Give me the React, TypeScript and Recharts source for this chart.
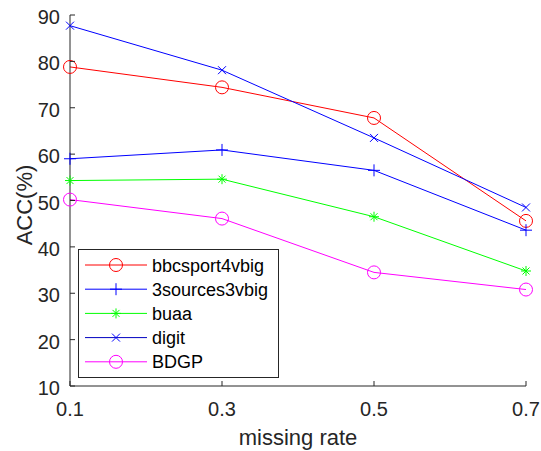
import React from 'react';
import { LineChart, Line, XAxis, YAxis, Legend, Label } from 'recharts';

const rates = [0.1, 0.3, 0.5, 0.7];
const bbcsport4vbig = [78.8, 74.4, 67.8, 45.6];
const sources3vbig = [59.0, 60.9, 56.5, 43.6];
const buaa = [54.3, 54.6, 46.5, 34.8];
const digit = [87.7, 78.1, 63.5, 48.5];
const bdgp = [50.2, 46.1, 34.5, 30.8];
const xTicks = [0.1, 0.3, 0.5, 0.7];
const yTicks = [10, 20, 30, 40, 50, 60, 70, 80, 90];

const FONT = '"Liberation Sans", Arial, Helvetica, sans-serif';
const AXIS = '#262626';

type MarkerKind = 'circle' | 'plus' | 'star' | 'cross';

const series: { key: string; name: string; color: string; legendColor: string; marker: MarkerKind }[] = [
  { key: 'bbc', name: 'bbcsport4vbig', color: '#ff0000', legendColor: '#ff0000', marker: 'circle' },
  { key: 'src', name: '3sources3vbig', color: '#0000ff', legendColor: '#0000ff', marker: 'plus' },
  { key: 'buaa', name: 'buaa', color: '#00ff00', legendColor: '#00ff00', marker: 'star' },
  { key: 'digit', name: 'digit', color: '#0000ff', legendColor: '#0000c0', marker: 'cross' },
  { key: 'bdgp', name: 'BDGP', color: '#ff00ff', legendColor: '#ff00ff', marker: 'circle' },
];

const data = rates.map((r, i) => ({
  rate: r,
  bbc: bbcsport4vbig[i],
  src: sources3vbig[i],
  buaa: buaa[i],
  digit: digit[i],
  bdgp: bdgp[i],
}));

const Marker = ({ cx, cy, kind, color }: { cx: number; cy: number; kind: MarkerKind; color: string }) => {
  const s = { stroke: color, strokeWidth: 1, fill: 'none' };
  if (kind === 'circle') return <circle cx={cx} cy={cy} r={6.5} {...s} />;
  if (kind === 'plus')
    return (
      <g {...s}>
        <line x1={cx - 6} y1={cy} x2={cx + 6} y2={cy} />
        <line x1={cx} y1={cy - 6} x2={cx} y2={cy + 6} />
      </g>
    );
  if (kind === 'cross')
    return (
      <g {...s}>
        <line x1={cx - 4} y1={cy - 4} x2={cx + 4} y2={cy + 4} />
        <line x1={cx - 4} y1={cy + 4} x2={cx + 4} y2={cy - 4} />
      </g>
    );
  return (
    <g {...s}>
      <line x1={cx - 5} y1={cy} x2={cx + 5} y2={cy} />
      <line x1={cx} y1={cy - 5} x2={cx} y2={cy + 5} />
      <line x1={cx - 3.5} y1={cy - 3.5} x2={cx + 3.5} y2={cy + 3.5} />
      <line x1={cx - 3.5} y1={cy + 3.5} x2={cx + 3.5} y2={cy - 3.5} />
    </g>
  );
};

const XTick = (props: any) => {
  const { x, y, payload } = props;
  return (
    <g>
      <line x1={x} y1={y} x2={x} y2={y - 5} stroke={AXIS} />
      <text x={x} y={y + 30} textAnchor="middle" fontSize={20} fill={AXIS} fontFamily={FONT}>
        {payload.value}
      </text>
    </g>
  );
};

const YTick = (props: any) => {
  const { x, y, payload } = props;
  return (
    <g>
      <line x1={x} y1={y} x2={x + 5} y2={y} stroke={AXIS} />
      <text x={x - 10} y={y + 9} textAnchor="end" fontSize={20} fill={AXIS} fontFamily={FONT}>
        {payload.value}
      </text>
    </g>
  );
};

const renderYLabel = () => (
  <text x={32} y={205} transform="rotate(-90, 32, 205)" textAnchor="middle" fontSize={22} fill={AXIS} fontFamily={FONT}>
    ACC(%)
  </text>
);

const renderXLabel = () => (
  <text x={298} y={445} textAnchor="middle" fontSize={22} fill={AXIS} fontFamily={FONT}>
    missing rate
  </text>
);

const renderLegend = () => (
  <svg width={201} height={129}>
    <rect x={0.5} y={0.5} width={200} height={128} fill="#fff" stroke={AXIS} strokeWidth={1} />
    {series.map((s, i) => {
      const cy = 16 + i * 24.2;
      return (
        <g key={s.key}>
          <line x1={7} y1={cy} x2={69} y2={cy} stroke={s.legendColor} strokeWidth={1} />
          <Marker cx={38} cy={cy} kind={s.marker} color={s.color} />
          <text x={74} y={cy + 6.5} fontSize={18} fill="#000" fontFamily={FONT}>
            {s.name}
          </text>
        </g>
      );
    })}
  </svg>
);

export default function App() {
  return (
    <div style={{ position: 'absolute', left: 0, top: 0, width: 541, height: 451, background: '#fff' }}>
      <LineChart width={541} height={451} data={data} margin={{ top: 15, right: 15, left: 10, bottom: 0 }}>
        <XAxis
          dataKey="rate"
          type="number"
          domain={[0.1, 0.7]}
          ticks={xTicks}
          height={65}
          stroke={AXIS}
          tickLine={false}
          tickSize={0}
          tickMargin={0}
          tick={<XTick />}
          interval={0}
        >
          <Label content={renderXLabel} />
        </XAxis>
        <YAxis
          type="number"
          domain={[10, 90]}
          ticks={yTicks}
          width={60}
          stroke={AXIS}
          tickLine={false}
          tickSize={0}
          tickMargin={0}
          tick={<YTick />}
          interval={0}
          allowDataOverflow
        >
          <Label content={renderYLabel} />
        </YAxis>
        {series.map((s) => (
          <Line
            key={s.key}
            dataKey={s.key}
            name={s.name}
            type="linear"
            stroke={s.color}
            strokeWidth={1}
            isAnimationActive={false}
            dot={(p: any) => <Marker key={`${s.key}-${p.index}`} cx={p.cx} cy={p.cy} kind={s.marker} color={s.color} />}
            activeDot={false}
          />
        ))}
        <Legend
          layout="horizontal"
          verticalAlign="middle"
          align="center"
          content={renderLegend}
          wrapperStyle={{ left: 78, top: 249, width: 201, height: 129 }}
        />
      </LineChart>
    </div>
  );
}
